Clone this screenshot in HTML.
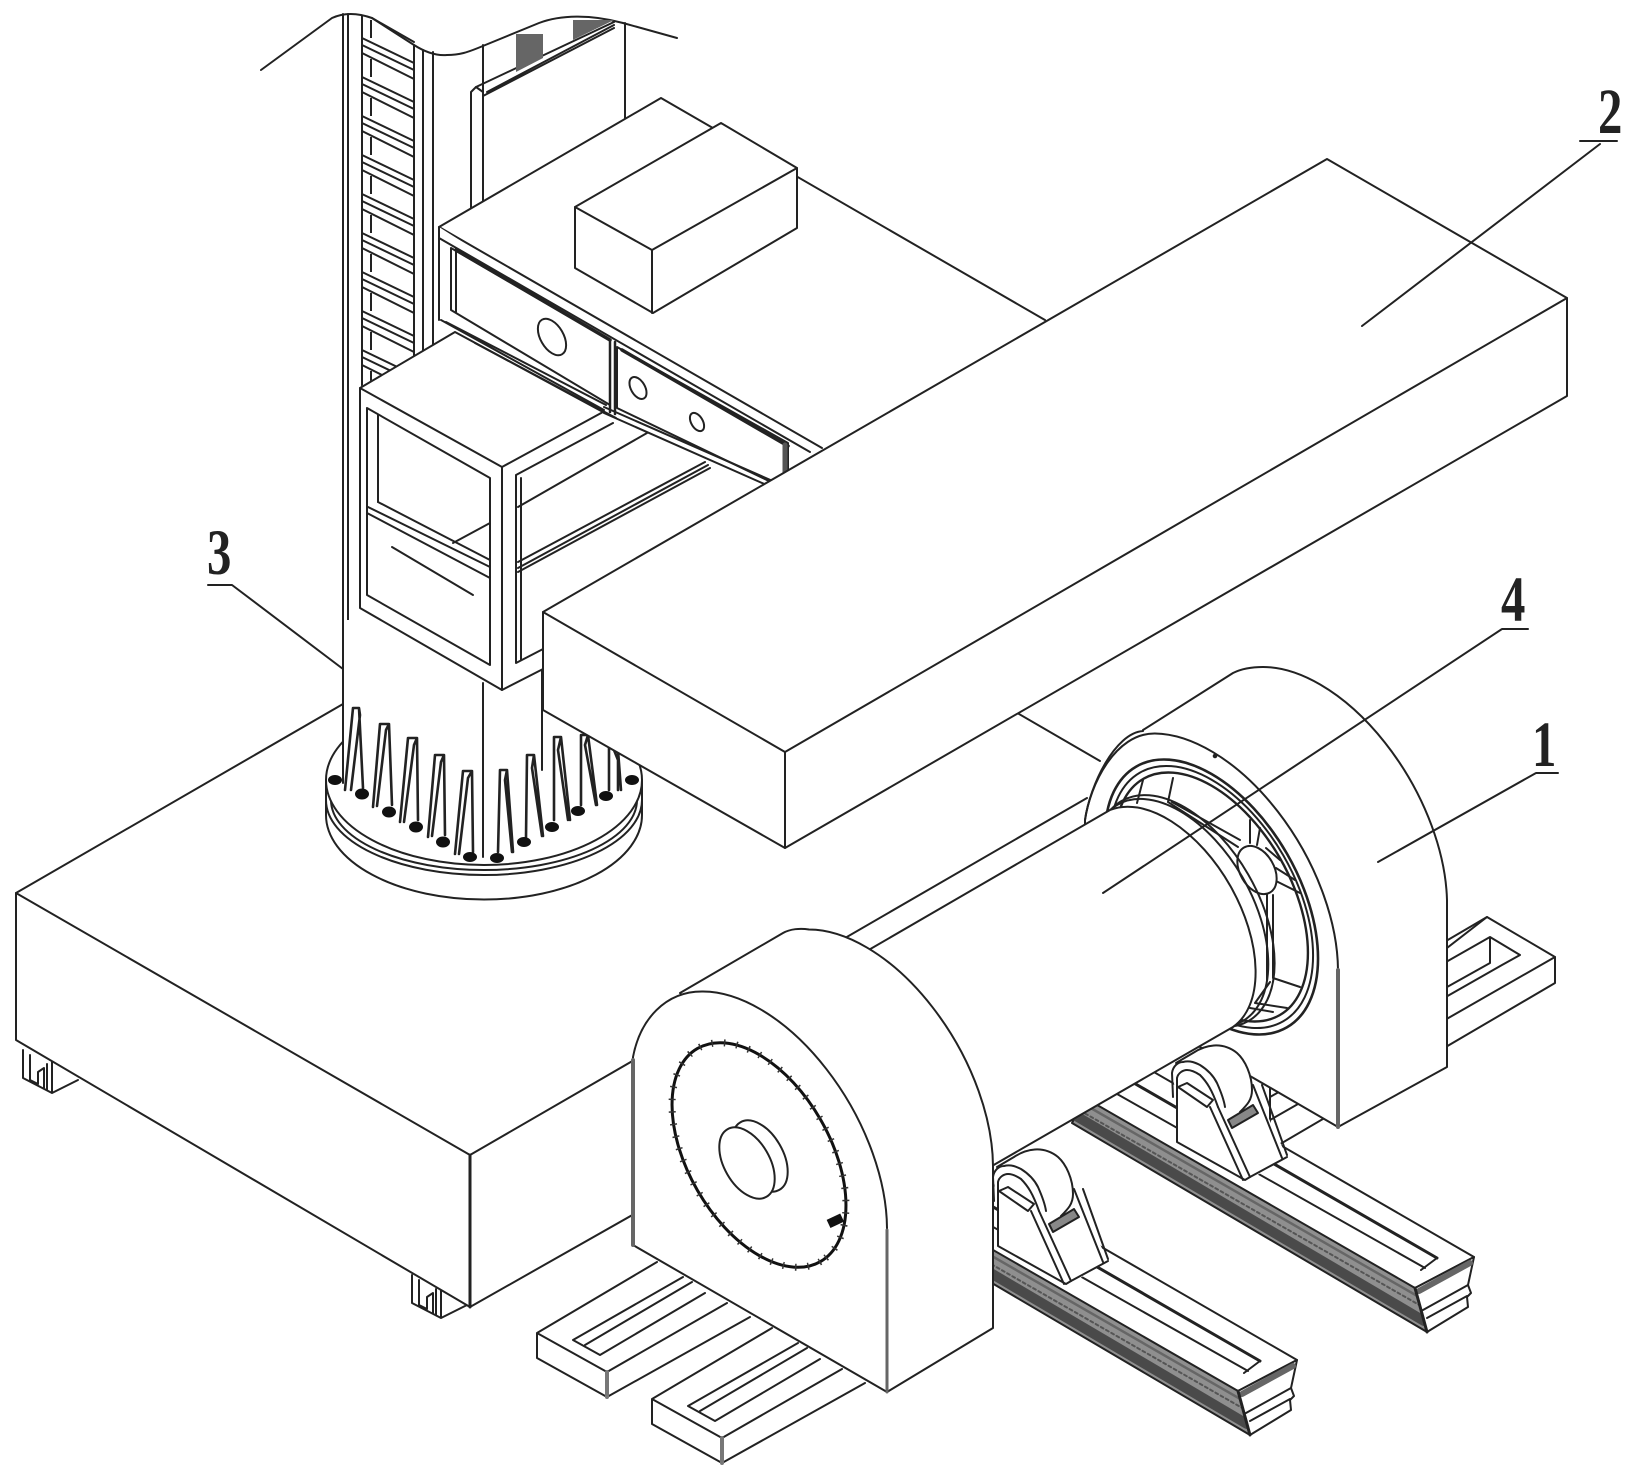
<!DOCTYPE html>
<html><head><meta charset="utf-8"><style>
html,body{margin:0;padding:0;background:#fff}
svg{display:block}
.n{font-family:"Liberation Serif",serif;font-weight:bold;font-size:65px;fill:#222}
</style></head><body>
<svg xmlns="http://www.w3.org/2000/svg" width="1635" height="1482" viewBox="0 0 1635 1482" fill="none" stroke="#222" stroke-width="2" stroke-linejoin="round" stroke-linecap="round">
<defs>
<g id="rung"><path d="M362 0L414 25M362 7L414 32M362 15L414 41"/></g>
<g id="foot"><path d="M23 1050V1078L52 1093L78 1080M52 1093V1060M30 1055V1080L38 1084V1072L44 1068V1088M47 1064V1090" fill="#fff"/></g>
<g id="frontrail">
<path d="M537 1333L657 1262L760 1320L607 1397L537 1358Z" fill="#fff" stroke="none"/>
<path d="M657 1262L537 1333V1358L607 1397V1372L537 1333M607 1372L727 1303M607 1397L750 1317"/>
<path d="M607 1372V1397" stroke="#777" stroke-width="4"/>
<path d="M683 1277L573 1340L600 1355L705 1293M692 1282L585 1345"/>
</g>
<g id="backrail">
<path d="M1085 1098L1140 1064L1474 1257L1415 1288Z" fill="#fff" stroke="none"/>
<path d="M1140 1064L1474 1257L1415 1288"/>
<path d="M1437 1258L1120 1075" stroke-width="3"/>
<path d="M1425 1268L1110 1090M1437 1258L1421 1270"/>
<path d="M1415 1288L1085 1098L1072 1123L1427 1332Z" fill="#8f8f8f"/>
<path d="M1424 1321L1076 1116" stroke="#4a4a4a" stroke-width="10"/>
<path d="M1419 1297L1082 1103" stroke="#666" stroke-width="2.5"/>
<path d="M1421 1306L1079 1110" stroke="#555" stroke-width="2" stroke-dasharray="3 3"/>
<path d="M1415 1288L1474 1257L1468 1285L1471 1293L1467 1297L1468 1307L1427 1332Z" fill="#fff"/>
<path d="M1419 1291L1470 1263" stroke="#666" stroke-width="6"/>
<path d="M1423 1310L1468 1285M1427 1318L1467 1296"/>
<path d="M1415 1288L1427 1332" stroke-width="3"/>
</g>
<g id="support">
<path d="M1172 1073C1178 1062 1193 1053 1193 1053L1217 1043C1228 1043 1243 1060 1250 1073C1254 1085 1253 1095 1253 1085L1287 1157L1246 1182L1177 1142V1100Z" fill="#fff" stroke="none"/>
<path d="M1176 1063L1193 1053C1205 1045 1222 1041 1237 1053C1245 1060 1252 1075 1252 1090C1252 1100 1247 1105 1240 1112"/>
<path d="M1228 1120L1253 1105L1258 1113L1232 1128Z" fill="#888"/>
<path d="M1177 1100V1142L1245 1180L1250 1177L1287 1157"/>
<path d="M1173 1097L1172 1073C1173 1066 1178 1062 1183 1062C1190 1060 1196 1063 1200 1065C1208 1070 1214 1077 1217 1083C1221 1092 1224 1100 1225 1107"/>
<path d="M1177 1100V1078C1178 1073 1183 1070 1187 1070C1192 1070 1197 1073 1200 1075C1207 1082 1212 1090 1218 1107"/>
<path d="M1178 1087L1187 1083L1213 1100L1207 1107Z" fill="#fff"/>
<path d="M1210 1107L1243 1180M1218 1107L1250 1177M1253 1085L1282 1158M1262 1085L1287 1155" fill="none"/>
</g>
</defs>

<!-- column back -->
<path d="M261 70L332 18C345 12 358 13 372 18L414 45C425 52 436 56 447 55C460 55 468 52 478 48L539 23C560 15 590 14 623 23L677 38"/>
<g>
<use href="#rung" y="38"/><use href="#rung" y="77"/><use href="#rung" y="116"/><use href="#rung" y="155"/><use href="#rung" y="194"/><use href="#rung" y="233"/><use href="#rung" y="272"/><use href="#rung" y="311"/><use href="#rung" y="350"/>
</g>
<path d="M372 18L414 42"/>
<path d="M343 14V783M348 14V672"/>
<path d="M362 16V395M414 45V380M423 50V375M433 52V365"/>
<path d="M371 20V385" stroke-dasharray="18 21" stroke-linecap="butt"/>
<path d="M471 220V92L476 87L483 92M483 45V205"/>
<path d="M625 23V118"/>
<path d="M476 87L614 22M483 96L614 28M487 92L614 25"/>
<path d="M516 34H543V58L516 72Z" fill="#666" stroke="none"/>
<path d="M573 20H614L573 40Z" fill="#666" stroke="none"/>

<!-- feet and base -->
<use href="#foot"/><use href="#foot" x="389" y="225"/>
<path d="M16 893L343 704L900 645L1100 761L1087 798L470 1155Z" fill="#fff" stroke="none"/>
<path d="M16 893L343 704M900 645L1100 761M470 1155L1087 798"/>
<path d="M16 893L470 1155V1307L16 1040Z" fill="#fff"/>
<path d="M470 1155V1307" stroke-width="3"/>
<path d="M470 1307L650 1205"/>

<!-- pedestal -->
<path d="M326 815A157 84 0 0 0 642 815V780H326Z" fill="#fff"/>
<path d="M326 800A158 75 0 0 0 642 800M331 800A153 70 0 0 0 637 800"/>
<ellipse cx="484" cy="780" rx="158" ry="85" fill="#fff"/>
<rect x="343" y="620" width="199" height="170" fill="#fff" stroke="none"/>
<path d="M343 620V783M542 620V770M483 683V857"/>
<!-- spikes -->
<g stroke-width="2.6">
<path d="M353 708L345 790M359 708L363 788M353 708H359L360 715L351 790" />
<path d="M380 724L373 807M389 724L392 805M380 724H389L386 730L377 806"/>
<path d="M408 738L400 822M417 738L418 820M408 738H417L414 745L404 822"/>
<path d="M435 755L428 837M444 755L445 835M435 755H444L441 762L432 836"/>
<path d="M463 771L455 854M472 771L473 852M463 771H472L468 778L459 854"/>
<path d="M500 770L498 852M507 770L513 852M500 770H507L505 780L512 852"/>
<path d="M527 755L526 837M534 755L543 836M527 755H534L532 768L542 836"/>
<path d="M554 737L554 820M561 737L570 820M554 737H561L558 750L568 820"/>
<path d="M581 735L581 805M588 735L597 805M581 735H588L585 745L596 805"/>
<path d="M609 745L609 790M618 750L621 790M612 745L618 760L618 790"/>
</g>
<g fill="#111" stroke="none">
<ellipse cx="335" cy="780" rx="7" ry="5"/><ellipse cx="362" cy="794" rx="7" ry="5.5"/><ellipse cx="389" cy="812" rx="7" ry="5.5"/><ellipse cx="416" cy="827" rx="7" ry="5.5"/><ellipse cx="443" cy="842" rx="7" ry="5.5"/><ellipse cx="470" cy="857" rx="7" ry="5"/><ellipse cx="497" cy="858" rx="7" ry="5"/><ellipse cx="524" cy="842" rx="7" ry="5"/><ellipse cx="552" cy="827" rx="7" ry="5"/><ellipse cx="578" cy="811" rx="7" ry="5"/><ellipse cx="606" cy="796" rx="7" ry="5"/><ellipse cx="632" cy="780" rx="7" ry="5"/>
</g>

<!-- machine head -->
<path d="M439 227L661 98L1045 320L825 455Z" fill="#fff" stroke="none"/>
<path d="M822 448L439 227L661 98L1045 320"/>
<path d="M439 227V320L608 413L788 470V448L439 227Z" fill="#fff" stroke="none"/>
<path d="M439 227V320M433 232V340"/>
<path d="M441 320L604 410M446 322L606 405"/>
<path d="M451 248V310L610 405V340Z" fill="#fff"/>
<path d="M456 250L610 340" stroke-width="3.5"/>
<path d="M456 250V312"/>
<ellipse cx="552" cy="337" rx="20" ry="11.5" transform="rotate(60 552 337)"/>
<path d="M610 340V412M615 342V414" stroke-width="2.5"/>
<path d="M617 347L788 443V470L771 482L617 408Z" fill="#fff"/>
<path d="M622 350L788 446" stroke-width="3.5"/>
<ellipse cx="638" cy="388" rx="12" ry="7" transform="rotate(60 638 388)"/>
<ellipse cx="697" cy="422" rx="10" ry="5.8" transform="rotate(60 697 422)"/>
<path d="M785 445V472" stroke-width="5" stroke="#555"/>
<path d="M439 238L810 452"/>
<!-- small box -->
<path d="M575 207L721 123L797 168V228L653 313L575 268Z" fill="#fff"/>
<path d="M575 207L652 250L797 168M652 250V313"/>

<!-- housing -->
<path d="M358 388L455 332L603 412L771 488L545 625V668L502 690L358 608Z" fill="#fff" stroke="none"/>
<path d="M604 407L775 482M604 413L771 487"/>
<path d="M360 388L455 332L603 412L502 467Z" fill="#fff"/>
<path d="M475 343L616 418" />
<path d="M360 388V608L502 690V467"/>
<path d="M502 690L545 668"/>
<path d="M367 408V595L490 665V478L367 408"/>
<path d="M378 415V502"/>
<path d="M368 507L490 567M367 513L490 578M378 502L490 560"/>
<path d="M392 547L473 595"/>
<path d="M453 543L490 523"/>
<path d="M516 475L613 423M516 475V663L545 648M521 478V660"/>
<path d="M518 507L647 433"/>
<path d="M518 562L705 462M518 568L708 465M518 572L710 468"/>

<!-- beam -->
<path d="M543 612L1327 159L1567 298V396L785 848L543 710Z" fill="#fff"/>
<path d="M543 612L785 752L1567 298M785 752V848"/>

<!-- rail E -->
<path d="M1487 917L1555 957V983L1270 1150V1085Z" fill="#fff"/>
<path d="M1487 917L1260 1050M1555 957L1270 1120"/>
<path d="M1490 937L1520 955L1502 965L1270 1097M1490 937L1270 1062M1490 937V963L1270 1086"/>

<!-- back rails -->
<use href="#backrail"/>
<use href="#backrail" x="-177" y="103"/>

<!-- front rails -->
<use href="#frontrail"/>
<use href="#frontrail" x="115" y="66"/>

<!-- rear block -->
<path d="M1143 730L1233 673C1241 669 1252 667 1263 667A180 104 60 0 1 1447 900V1067L1338 1127L1200 1047L1085 960V820C1090 785 1115 733 1143 731Z" fill="#fff"/>
<path d="M1085 820C1090 785 1115 733 1155 733.5A180 104 60 0 1 1338 970" />
<path d="M1338 970V1127" stroke="#666" stroke-width="4"/>
<!-- bearing -->
<ellipse cx="1211.5" cy="897" rx="150.6" ry="87" transform="rotate(60 1211.5 897)" fill="#fff" stroke-width="2.6"/>
<ellipse cx="1211.5" cy="897" rx="143.5" ry="83" transform="rotate(60 1211.5 897)"/>
<ellipse cx="1211.5" cy="897" rx="136.4" ry="78.7" transform="rotate(60 1211.5 897)" stroke-width="2.4"/>
<path d="M1173 778L1168 802M1143 780L1137 803M1168 802L1238 847M1172 802L1240 840M1250 820V843M1260 828L1257 845M1267 893V980M1273 895V978M1273 978L1300 987M1270 982L1255 1003L1287 1008M1250 1008L1273 1012M1274 880L1300 893M1276 868L1295 880M1266 848L1280 860"/>
<ellipse cx="1257" cy="870" rx="26" ry="17" transform="rotate(60 1257 870)" fill="#fff"/>
<ellipse cx="1180" cy="913" rx="125" ry="72" transform="rotate(60 1180 913)"/>
<ellipse cx="1185" cy="911" rx="127" ry="73" transform="rotate(60 1185 911)"/>
<circle cx="1215" cy="756" r="1.3" fill="#222"/>
<!-- cylinder -->
<path d="M860 955L1110 810A125 72 60 0 1 1233 1027L985 1170Z" fill="#fff"/>
<!-- supports -->
<use href="#support"/>
<use href="#support" x="-179" y="104"/>
<!-- front block -->
<path d="M680 993L783 933C790 929 800 928 809 929.5A180 104 60 0 1 993 1166V1328L887 1392V1228Z" fill="#fff"/>
<path d="M633 1245V1057C640 1020 665 991 703 991.5A180 104 60 0 1 887 1228V1392Z" fill="#fff"/>
<path d="M633 1060V1245" stroke="#666" stroke-width="4"/>
<path d="M887 1230V1392" stroke="#666" stroke-width="3"/>
<!-- disc -->
<ellipse cx="759" cy="1155" rx="123" ry="71" transform="rotate(60 759 1155)" stroke="#111" stroke-width="3"/>
<ellipse cx="759" cy="1155" rx="123" ry="71" transform="rotate(60 759 1155)" stroke="#333" stroke-width="7" stroke-dasharray="1.5 11" stroke-linecap="butt"/>
<rect x="828" y="1216" width="15" height="9" fill="#111" stroke="none" transform="rotate(-25 836 1221)"/>
<!-- hub -->
<ellipse cx="760" cy="1156" rx="39" ry="22.7" transform="rotate(60 760 1156)" fill="#fff"/>
<ellipse cx="747" cy="1163" rx="39" ry="22.7" transform="rotate(60 747 1163)" fill="#fff"/>

<!-- leaders -->
<path d="M1362 326L1600 144M1580 141H1617"/>
<path d="M208 585H232L343 669"/>
<path d="M1502 629H1528M1502 629L1103 893"/>
<path d="M1536 773H1558M1536 773L1378 862"/>
<g stroke="none">
<text class="n" transform="translate(1598,133) scale(.75,1)">2</text>
<text class="n" transform="translate(207,574) scale(.75,1)">3</text>
<text class="n" transform="translate(1501,621) scale(.75,1)">4</text>
<text class="n" transform="translate(1532,766) scale(.75,1)">1</text>
</g>
</svg>
</body></html>
